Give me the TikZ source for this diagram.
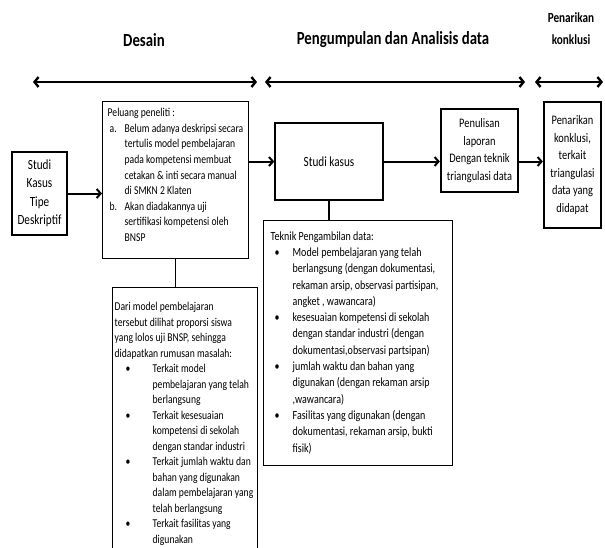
\documentclass[tikz,border=0pt]{standalone}
\usepackage{fontspec}
\setmainfont[FakeStretch=0.8]{Carlito}
\usetikzlibrary{arrows.meta}
\newcommand{\lbl}[3]{\hspace*{#1}\makebox[#2][l]{#3}}
\newcommand{\cnt}[1]{\hspace*{#1}}
\newcommand{\rows}[3]{\parbox[t][#1][t]{#2}{\begin{tabular}[t]{@{}l@{}}#3\end{tabular}}}
\tikzset{box/.style={draw,line width=1.4pt,inner sep=0pt},heavy box/.style={box,line width=2.2pt},phase arrow/.style={{Straight Barb[length=4pt,width=10pt]}-{Straight Barb[length=4pt,width=10pt]},line width=2.4pt},flow/.style={-{Straight Barb[length=4pt,width=9pt]},line width=2pt},link/.style={line width=1.4pt},phase label/.style={font=\bfseries\fontsize{18.5}{22}\selectfont},box text/.style={font=\fontsize{12}{15.6}\selectfont},center text/.style={align=center,font=\fontsize{13}{17.6}\selectfont}}

\begin{document}
\begin{tikzpicture}[x=1pt,y=-1pt]
 \useasboundingbox (0,0) rectangle (605,547);
 \node[phase label] (desain) at (144,40) {Desain};
 \node[phase label] (kumpul) at (393,40) {Pengumpulan dan Analisis data};
 \node[align=center,font=\bfseries\fontsize{14}{22}\selectfont] (simpul) at (571,29) {Penarikan\\konklusi};
 \coordinate (a1) at (33,82); \coordinate (a2) at (257,82);
 \coordinate (b1) at (265,82); \coordinate (b2) at (525,82);
 \coordinate (c1) at (535,82); \coordinate (c2) at (603,82);
 \draw[phase arrow] (a1)--(a2);
 \draw[phase arrow] (b1)--(b2);
 \draw[phase arrow] (c1)--(c2);
 \node[box,center text,font=\fontsize{14}{18.5}\selectfont,minimum width=55pt,minimum height=83pt] (tipe) at (39.5,193.5) {Studi\\Kasus\\Tipe\\Deskriptif};
 \node[box,box text,anchor=north west,inner xsep=5pt,inner ysep=4pt] (peluang) at (102,101) {\rows{149pt}{136pt}{Peluang peneliti :\\
  \lbl{2pt}{15pt}{a.}Belum adanya deskripsi secara\\
  \cnt{17pt}tertulis model pembelajaran\\
  \cnt{17pt}pada kompetensi membuat\\
  \cnt{17pt}cetakan \& inti secara manual\\
  \cnt{17pt}di SMKN 2 Klaten\\
  \lbl{2pt}{15pt}{b.}Akan diadakannya uji\\
  \cnt{17pt}sertifikasi kompetensi oleh\\
  \cnt{17pt}BNSP}};
 \node[box,center text,font=\fontsize{14}{18}\selectfont,minimum width=108pt,minimum height=77pt] (kasus) at (329,161.5) {Studi kasus};
 \node[heavy box,center text,minimum width=77pt,minimum height=83pt] (tulis) at (479.5,150.5) {Penulisan\\laporan\\Dengan teknik\\triangulasi data};
 \node[heavy box,center text,minimum width=57pt,minimum height=126pt] (konklusi) at (572.5,165) {Penarikan\\konklusi,\\terkait\\triangulasi\\data yang\\didapat};
 \node[box,box text,font=\fontsize{12.5}{16.3}\selectfont,anchor=north west,inner xsep=7pt,inner ysep=8pt] (teknik) at (263,220) {\rows{229pt}{175pt}{Teknik Pengambilan data:\\
  \lbl{4pt}{18pt}{\textbullet}Model pembelajaran yang telah\\
  \cnt{22pt}berlangsung (dengan dokumentasi,\\
  \cnt{22pt}rekaman arsip, observasi partisipan,\\
  \cnt{22pt}angket , wawancara)\\
  \lbl{4pt}{18pt}{\textbullet}kesesuaian kompetensi di sekolah\\
  \cnt{22pt}dengan standar industri (dengan\\
  \cnt{22pt}dokumentasi,observasi partsipan)\\
  \lbl{4pt}{18pt}{\textbullet}jumlah waktu dan bahan yang\\
  \cnt{22pt}digunakan (dengan rekaman arsip\\
  \cnt{22pt},wawancara)\\
  \lbl{4pt}{18pt}{\textbullet}Fasilitas yang digunakan (dengan\\
  \cnt{22pt}dokumentasi, rekaman arsip, bukti\\
  \cnt{22pt}fisik)}};
 \node[box,box text,font=\fontsize{12}{15.5}\selectfont,anchor=north west,inner xsep=2pt,inner ysep=12pt] (masalah) at (112,287) {\rows{274pt}{141pt}{Dari model pembelajaran\\
  tersebut dilihat proporsi siswa\\
  yang lolos uji BNSP, sehingga\\
  didapatkan rumusan masalah:\\
  \lbl{11pt}{27pt}{\textbullet}Terkait model\\
  \cnt{38pt}pembelajaran yang telah\\
  \cnt{38pt}berlangsung\\
  \lbl{11pt}{27pt}{\textbullet}Terkait kesesuaian\\
  \cnt{38pt}kompetensi di sekolah\\
  \cnt{38pt}dengan standar industri\\
  \lbl{11pt}{27pt}{\textbullet}Terkait jumlah waktu dan\\
  \cnt{38pt}bahan yang digunakan\\
  \cnt{38pt}dalam pembelajaran yang\\
  \cnt{38pt}telah berlangsung\\
  \lbl{11pt}{27pt}{\textbullet}Terkait fasilitas yang\\
  \cnt{38pt}digunakan}};
 \draw[flow] (tipe.east) -- (tipe.east -| peluang.west);
 \draw[flow] (peluang.east |- kasus) -- (kasus.west);
 \draw[flow] (kasus.east) -- (kasus.east -| tulis.west);
 \draw[flow] (tulis.east |- kasus) -- (kasus -| konklusi.west);
 \draw[link] (peluang.south) -- (peluang.south |- masalah.north);
 \draw[link] (kasus.south) -- (kasus.south |- teknik.north);
\end{tikzpicture}
\end{document}
